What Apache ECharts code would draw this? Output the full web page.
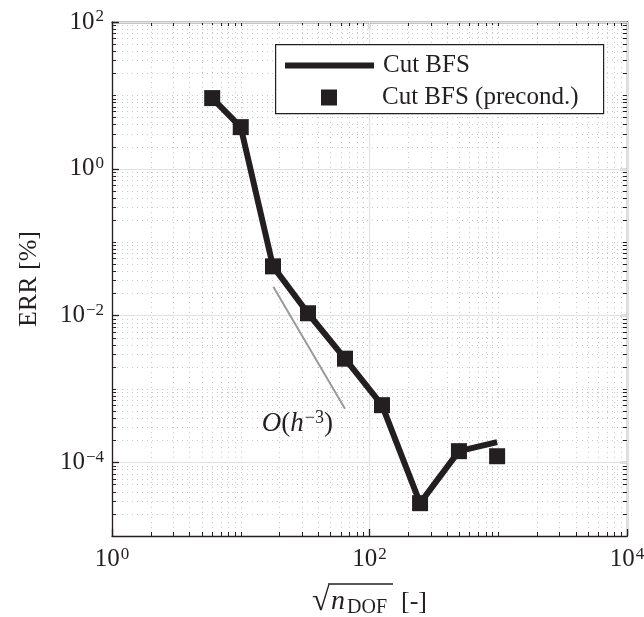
<!doctype html>
<html>
<head>
<meta charset="utf-8">
<title>ERR vs sqrt(nDOF)</title>
<script src="https://cdn.jsdelivr.net/npm/echarts@6/dist/echarts.min.js"></script>
<style>
  html, body { margin: 0; padding: 0; background: #fff; }
  #main { width: 644px; height: 617px; }
</style>
</head>
<body>
<div id="main"></div>
<script>
// values
var nDof = [6, 10, 17.8, 33.3, 64.5, 125, 247, 495, 980];
var errPrecond = [9.2, 3.7, 0.047, 0.0108, 0.0026, 6.05e-4, 2.8e-5, 1.43e-4, 1.22e-4];
var errCut = [9.2, 3.7, 0.047, 0.0108, 0.0026, 6.05e-4, 2.8e-5, 1.43e-4, 1.9e-4];
var refX = [17.9, 64.5];
var refY = [0.0248, 5.4e-4];
var xMajor = [1, 100, 10000];
var yMajor = [1e-4, 1e-2, 1, 100];

var FONT = 'Liberation Serif';
var INK = '#231f20';

// minor tick values: 2..9 in every decade plus the unlabelled decades
function minorTicks(lo, hi, major) {
  var out = [];
  for (var d = lo; d < hi; d++) {
    var base = Math.pow(10, d);
    if (major.indexOf(base) < 0 && d > lo) out.push(base);
    for (var k = 2; k <= 9; k++) out.push(+(k * base).toPrecision(3));
  }
  return out;
}
var xMinor = minorTicks(0, 4, xMajor);
var yMinor = minorTicks(-5, 2, yMajor);

function pair(xs, ys) {
  return xs.map(function (x, i) { return [x, ys[i]]; });
}

function powLabel(v) {
  var e = Math.round(Math.log10(v));
  return '{b|10}{e|' + (e < 0 ? '\u2212' + (-e) : e) + '}';
}
var powRich = {
  b: { fontFamily: FONT, fontSize: 25, color: INK },
  e: { fontFamily: FONT, fontSize: 17, color: INK, verticalAlign: 'top', padding: [0, 0, 10, 1] }
};

function axisSet(dim, min, max, major, minor) {
  var isX = dim === 'x';
  var line = { show: true, lineStyle: { color: INK, width: 1.3 } };
  return [
    { // main axis with labels and major grid
      type: 'log', logBase: 10, min: min, max: max,
      position: isX ? 'bottom' : 'left',
      axisLine: line,
      axisTick: { inside: true, length: 7, customValues: major, lineStyle: { color: INK, width: 1.3 } },
      axisLabel: { customValues: major, formatter: powLabel, rich: powRich, margin: isX ? 10 : 8 },
      splitLine: { show: true, lineStyle: { color: '#e2e2e2', width: 1.2 } },
      z: 3
    },
    { // minor ticks and dotted minor grid
      type: 'log', logBase: 10, min: min, max: max,
      position: isX ? 'bottom' : 'left',
      axisLine: { show: false },
      axisTick: { inside: true, length: 4, customValues: minor, lineStyle: { color: INK, width: 1 } },
      axisLabel: { show: false },
      splitLine: { show: true, lineStyle: { color: '#c9c9c9', width: 1, type: [1, 4] } },
      z: 2
    },
    { // mirrored box side, major
      type: 'log', logBase: 10, min: min, max: max,
      position: isX ? 'top' : 'right',
      axisLine: line,
      axisTick: { inside: true, length: 7, customValues: major, lineStyle: { color: INK, width: 1.3 } },
      axisLabel: { show: false },
      splitLine: { show: false }
    },
    { // mirrored box side, minor
      type: 'log', logBase: 10, min: min, max: max,
      position: isX ? 'top' : 'right',
      axisLine: { show: false },
      axisTick: { inside: true, length: 4, customValues: minor, lineStyle: { color: INK, width: 1 } },
      axisLabel: { show: false },
      splitLine: { show: false }
    }
  ];
}

var xAxes = axisSet('x', 1, 10000, xMajor, xMinor);
// fixed token widths so the overline of the root can be placed over n_DOF
xAxes[0].name = '{r|\u221A}{n|n}{s|DOF}{g|}{t|[-]}';
xAxes[0].nameLocation = 'middle';
xAxes[0].nameGap = 50;
xAxes[0].nameTextStyle = {
  rich: {
    r: { fontFamily: FONT, fontSize: 32, color: INK, width: 19, align: 'left' },
    n: { fontFamily: FONT, fontSize: 28, fontStyle: 'italic', color: INK, width: 16, align: 'left' },
    s: { fontFamily: FONT, fontSize: 20, color: INK, verticalAlign: 'bottom', padding: [9, 0, 0, 0], width: 44, align: 'left' },
    g: { width: 10 },
    t: { fontFamily: FONT, fontSize: 26, color: INK, width: 26, align: 'left' }
  }
};

var yAxes = axisSet('y', 1e-5, 100, yMajor, yMinor);
yAxes[0].name = 'ERR [%]';
yAxes[0].nameLocation = 'middle';
yAxes[0].nameGap = 70;
yAxes[0].nameTextStyle = { fontFamily: FONT, fontSize: 26, color: INK };

var chart = echarts.init(document.getElementById('main'));
chart.setOption({
  backgroundColor: '#fff',
  animation: false,
  textStyle: { fontFamily: FONT },
  grid: { left: 112, right: 17, top: 22, bottom: 81, outerBoundsMode: 'none' },
  xAxis: xAxes,
  yAxis: yAxes,
  legend: [
    {
      data: [{ name: 'Cut BFS', icon: 'rect' }],
      left: 285, top: 53, padding: 0,
      itemWidth: 89, itemHeight: 6,
      textStyle: { fontFamily: FONT, fontSize: 25, color: INK, padding: [0, 0, 0, 4] },
      z: 11
    },
    {
      data: [{ name: 'Cut BFS (precond.)', icon: 'rect' }],
      left: 321, top: 85, padding: 0,
      itemWidth: 16, itemHeight: 16,
      formatter: '{g|}{name}',
      textStyle: { fontFamily: FONT, fontSize: 25, color: INK, rich: { g: { width: 40 } } },
      z: 11
    }
  ],
  graphic: [
    { // legend frame
      type: 'rect', left: 275, top: 44, z: 10,
      shape: { width: 328, height: 69 },
      style: { fill: '#fff', stroke: INK, lineWidth: 1.2 }
    },
    { // overline of the square root
      type: 'line', z: 10,
      shape: { x1: 328, y1: 584, x2: 393, y2: 584 },
      style: { stroke: INK, lineWidth: 1.3 }
    }
  ],
  series: [
    {
      name: 'Cut BFS', type: 'line',
      data: pair(nDof, errCut),
      symbol: 'none', z: 5,
      lineStyle: { color: INK, width: 6 },
      itemStyle: { color: INK }
    },
    {
      name: 'Cut BFS (precond.)', type: 'scatter',
      data: pair(nDof, errPrecond),
      symbol: 'rect', symbolSize: 16, z: 6,
      itemStyle: { color: INK, opacity: 1 }
    },
    {
      name: 'O(h^-3)', type: 'line',
      data: pair(refX, refY),
      symbol: 'none', z: 4,
      lineStyle: { color: '#9a9a9a', width: 2 },
      markPoint: {
        symbol: 'circle', symbolSize: 0,
        data: [{ coord: [27.5, 3.4e-4] }],
        label: {
          show: true, position: 'inside',
          formatter: '{o|O}{p|(}{h|h}{e|\u22123}{p|)}',
          rich: {
            o: { fontFamily: FONT, fontSize: 27, fontStyle: 'italic', color: INK },
            p: { fontFamily: FONT, fontSize: 27, color: INK },
            h: { fontFamily: FONT, fontSize: 27, fontStyle: 'italic', color: INK },
            e: { fontFamily: FONT, fontSize: 18, color: INK, verticalAlign: 'top', padding: [0, 0, 11, 1] }
          }
        }
      }
    }
  ]
});
</script>
</body>
</html>
